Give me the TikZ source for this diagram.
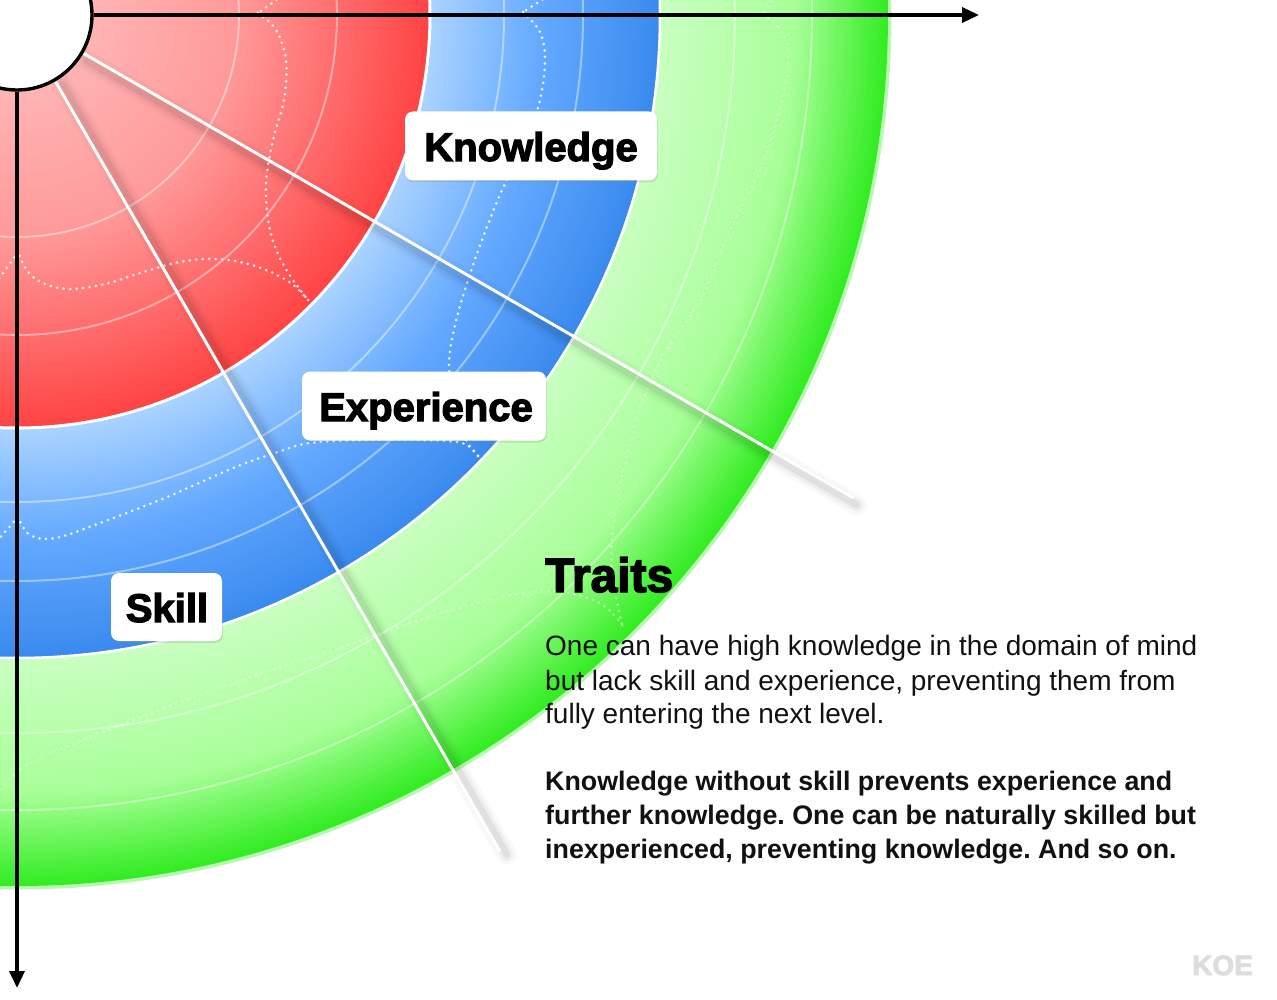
\documentclass[tikz,border=0pt]{standalone}
\usepackage{fontspec}
\setmainfont{Liberation Sans}
\newfontfamily\heavyfont{Liberation Sans}[BoldFeatures={FakeBold=3}]
\usetikzlibrary{arrows.meta,shadows,calc}
\definecolor{rOut}{HTML}{FF4444}
\definecolor{rMid}{HTML}{FF9A9A}
\definecolor{rIn}{HTML}{FFC2C2}
\definecolor{bOut}{HTML}{3A8AEE}
\definecolor{bMid}{HTML}{62A8FF}
\definecolor{bIn}{HTML}{ACD4FF}
\definecolor{gOut}{HTML}{33EC22}
\definecolor{gMid}{HTML}{A8FF98}
\definecolor{gIn}{HTML}{CAFFC2}
\definecolor{ink}{HTML}{111111}
\definecolor{koe}{HTML}{DDDDDD}
% #1 outer radius, #2 inner radius, #3 colour at outer, #4 colour at inner, #5 steps
\newcommand\ringband[5]{%
  \foreach \k in {0,...,#5}{%
    \pgfmathsetmacro\rr{#1-(#1-#2)*\k/#5}%
    \pgfmathsetmacro\pp{100*\k/#5}%
    \fill[fill=#4!\pp!#3] (O) circle[radius=\rr pt];
  }}
\frenchspacing
\begin{document}
\begin{tikzpicture}[x=1pt,y=-1pt,
  faint/.style={white, opacity=0.42, line width=2pt},
  dotcurve/.style={white, opacity=0.85, line width=3pt, line cap=round, dash pattern=on 0pt off 6.5pt},
  sep/.style={white, line width=3pt},
  ray/.style={white, line width=3pt},
  rayshadow/.style={black, opacity=#1, line cap=round},
  axis/.style={black, line width=3.4pt, -{Triangle[length=17pt,width=15pt]}},
  lbox/.style={fill=white, rounded corners=8pt, inner sep=0pt,
    drop shadow={opacity=0.22, shadow xshift=1pt, shadow yshift=-2pt}},
  ltext/.style={font=\heavyfont\bfseries\fontsize{40}{40}\selectfont, anchor=base, inner sep=0pt, text=black},
  body/.style={font=\fontsize{28}{34}\selectfont, anchor=base west, inner sep=0pt, text=ink},
  bodyb/.style={font=\bfseries\fontsize{26.8}{34}\selectfont, anchor=base west, inner sep=0pt, text=ink}
]
\useasboundingbox (0,0) rectangle (1277,1000);
\clip (0,0) rectangle (1277,1000);
\fill[white] (0,0) rectangle (1277,1000);
\coordinate (O) at (17,15);

% outer glow of green ring
\draw[gOut!35, line width=5pt] (O) circle[radius=872pt];
% rings
\ringband{871}{780}{gOut}{gMid}{30}
\ringband{780}{643}{gMid}{gIn}{45}
\ringband{643}{530}{bOut}{bMid}{38}
\ringband{530}{413}{bMid}{bIn}{39}
\ringband{413}{220}{rOut}{rMid}{64}
\ringband{220}{0}{rMid}{rIn}{55}

% ring separators
\draw[sep] (O) circle[radius=413pt];
\draw[sep, line width=2.5pt] (O) circle[radius=643pt];

% faint inner circles
\foreach \fr in {222,320,487,566,718,795}{\draw[faint] (O) circle[radius=\fr pt];}

% dotted wavy curves
\begin{scope}[dotcurve]
% red
\draw (282,-4) -- (258,13);
\draw plot[smooth, tension=0.6] coordinates {(258,13) (276,30) (286,60) (284,100) (273,140) (266,185) (270,230) (284,266) (308,300)};
\draw plot[smooth, tension=0.6] coordinates {(308,300) (292,284) (266,270) (235,261) (205,259) (175,263) (140,273) (105,284) (70,289) (45,284) (28,272) (18,252)};
\draw (18,252) -- (-2,280);
% blue
\draw (548,-4) -- (523,12);
\draw plot[smooth, tension=0.6] coordinates {(523,12) (540,32) (545,60) (540,100) (525,145) (503,188) (485,232) (468,280) (455,325) (449,365) (455,410) (466,440) (478,456)};
\draw plot[smooth, tension=0.6] coordinates {(478,456) (462,443) (420,440) (370,440) (310,443) (275,453) (233,468) (167,497) (100,523) (55,538) (30,535) (18,517)};
\draw (18,517) -- (-2,540);
\end{scope}
\begin{scope}[dotcurve, opacity=0.5]
% green
\draw (775,-4) -- (763,14);
\draw plot[smooth, tension=0.6] coordinates {(763,14) (782,32) (788,58) (782,100) (762,165) (730,230) (703,295) (668,348) (643,400) (627,455) (614,520) (612,570) (622,625)};
\draw plot[smooth, tension=0.6] coordinates {(622,625) (600,603) (560,592) (517,594) (470,605) (420,620) (333,650) (233,683) (133,720) (70,745) (35,760) (18,770)};
\draw (18,770) -- (-2,792);
\end{scope}

% radial lines
\path (O) ++(30:77) coordinate (r1a) (O) ++(30:966) coordinate (r1b);
\path (O) ++(60:77) coordinate (r2a) (O) ++(60:966) coordinate (r2b);
\foreach \w/\o in {20/0.025,13/0.04,7/0.06}{
  \draw[rayshadow=\o, line width=\w pt] ([shift={(3,7)}]r1a) -- ([shift={(3,7)}]r1b);
  \draw[rayshadow=\o, line width=\w pt] ([shift={(7,3)}]r2a) -- ([shift={(7,3)}]r2b);
}
\draw[ray] (r1a) -- (r1b);
\draw[ray] (r2a) -- (r2b);

% hub and axes
\node[circle, draw=black, fill=white, line width=3.4pt, minimum size=150pt, inner sep=0pt] (hub) at (O) {};
\coordinate (xend) at (979,15);
\coordinate (yend) at (17,988);
\draw[axis] (hub.east) -- (xend);
\draw[axis] (hub.south) -- (yend);

% labels
\node[lbox, minimum width=252pt, minimum height=69pt] (kbox) at (531,146) {};
\node[ltext] (ktext) at (531,161) {Knowledge};
\node[lbox, minimum width=244pt, minimum height=69pt] (ebox) at (424,406) {};
\node[ltext] (etext) at (426,421) {Experience};
\node[lbox, minimum width=111pt, minimum height=68pt] (sbox) at (166.5,607) {};
\node[ltext] (stext) at (167,622) {Skill};

% text block
\node[font=\heavyfont\bfseries\fontsize{48}{48}\selectfont, anchor=base west, inner sep=0pt, text=black] (traits) at (545,592) {Traits};
\node[body] (p1) at (545,655) {One can have high knowledge in the domain of mind};
\node[body] (p2) at (545,690) {but lack skill and experience, preventing them from};
\node[body] (p3) at (545,723) {fully entering the next level.};
\node[bodyb] (q1) at (545,790) {Knowledge without skill prevents experience and};
\node[bodyb] (q2) at (545,824) {further knowledge. One can be naturally skilled but};
\node[bodyb] (q3) at (545,858) {inexperienced, preventing knowledge. And so on.};

\node[font=\heavyfont\bfseries\fontsize{28}{28}\selectfont, anchor=base west, inner sep=0pt, text=koe] (koe) at (1192,975) {KOE};
\end{tikzpicture}
\end{document}
